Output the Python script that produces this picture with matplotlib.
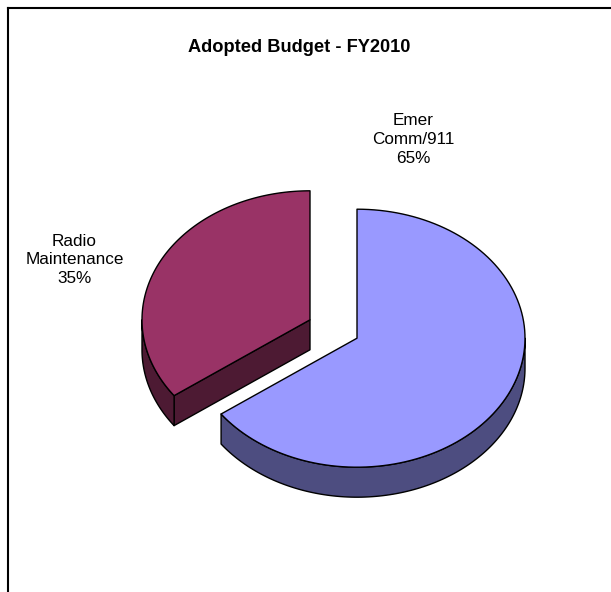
import numpy as np
import matplotlib
matplotlib.use("Agg")
import matplotlib.pyplot as plt
from matplotlib.patches import Polygon

# Budget split
categories = ["Emer\nComm/911", "Radio\nMaintenance"]
shares = [65, 35]
top_colors = ["#9999FF", "#993366"]
side_colors = ["#4D4D80", "#4D1A33"]

W, H = 611, 592
cx, cy = 333.5, 329.0      # pie centre in pixel coords
rx, ry = 168.0, 129.0      # ellipse radii of the tilted top face
depth = 30.0
explode = 0.157

fig = plt.figure(figsize=(W / 100, H / 100), dpi=100)
ax = fig.add_axes([0, 0, 1, 1])
ax.set_xlim(0, W)
ax.set_ylim(H, 0)
ax.axis("off")
plt.rcParams["font.family"] = ["Liberation Sans", "DejaVu Sans"]


def pt(theta, ox, oy):
    t = np.radians(theta)
    return ox + rx * np.sin(t), oy - ry * np.cos(t)


def arc(a, b, ox, oy, dy=0.0, n=120):
    th = np.linspace(a, b, n)
    xs, ys = pt(th, ox, oy)
    return np.column_stack([xs, ys + dy])


def draw_slice(a, b, top, side):
    mid = np.radians((a + b) / 2)
    ox = cx + explode * rx * np.sin(mid)
    oy = cy - explode * ry * np.cos(mid)
    kw = dict(edgecolor="black", linewidth=1.0, joinstyle="round")

    # cut face at the starting edge (visible when it faces down)
    if 90 < (a % 360) < 270 and b - a < 360:
        ex, ey = pt(a, ox, oy)
        ax.add_patch(Polygon([(ox, oy), (ex, ey), (ex, ey + depth),
                              (ox, oy + depth)], facecolor=side, **kw))

    # outer wall on the front half of the ellipse
    lo, hi = max(a, 90), min(b, 270)
    if hi > lo:
        upper = arc(lo, hi, ox, oy)
        lower = arc(lo, hi, ox, oy, depth)[::-1]
        ax.add_patch(Polygon(np.vstack([upper, lower]), facecolor=side, **kw))

    # top face
    pts = np.vstack([[(ox, oy)], arc(a, b, ox, oy)])
    ax.add_patch(Polygon(pts, facecolor=top, **kw))


angles = np.cumsum([0] + [s / sum(shares) * 360 for s in shares])
order = [1, 0]  # back slice first
for i in order:
    draw_slice(angles[i], angles[i + 1], top_colors[i], side_colors[i])

# data labels
label_pos = [(413, 139.5), (74.5, 260)]
for (lx, ly), name, s in zip(label_pos, categories, shares):
    ax.text(lx, ly, f"{name}\n{s}%", ha="center", va="center",
            fontsize=12.3, linespacing=1.33)

ax.text(299, 48, "Adopted Budget - FY2010", ha="center", va="center",
        fontsize=13.15, fontweight="bold")

# chart area border (runs off the right and bottom edges)
ax.plot([8, W + 5], [8, 8], color="black", linewidth=1.5)
ax.plot([8, 8], [8, H + 5], color="black", linewidth=1.5)

fig.savefig("out.png", dpi=100, facecolor="white")
